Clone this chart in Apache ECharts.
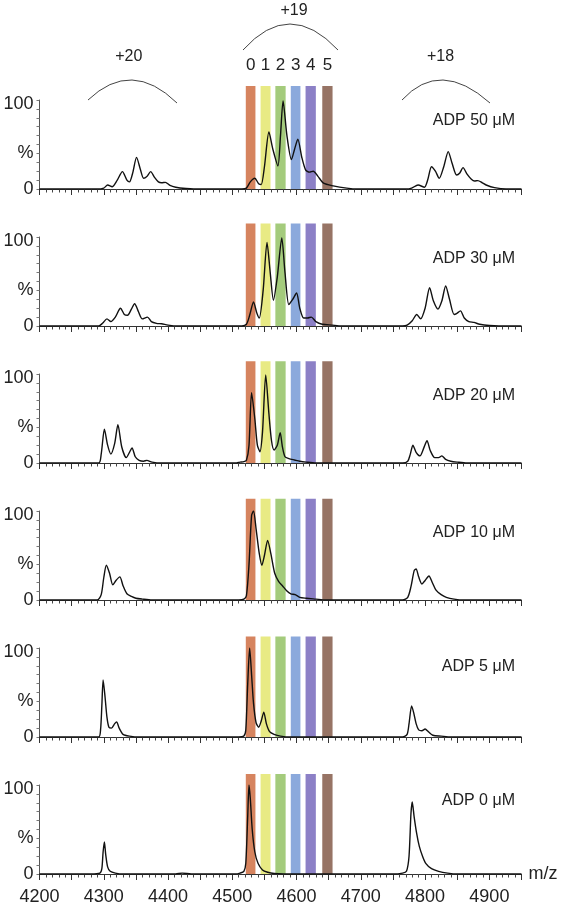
<!DOCTYPE html>
<html><head><meta charset="utf-8">
<script src="https://cdn.jsdelivr.net/npm/echarts@6/dist/echarts.min.js"></script>
<style>html,body{margin:0;padding:0;background:#fff}#c{width:562px;height:907px}</style>
</head><body><div id="c"></div>
<script>
// ---------- data ----------
const panelNames = ['ADP 50 μM','ADP 30 μM','ADP 20 μM','ADP 10 μM','ADP 5 μM','ADP 0 μM'];

const spec50 = [[4200,0],[4290,0],[4300,1],[4306,4.5],[4313,2.5],[4321,10],[4329,19.5],[4336,10],[4340,8],[4345,18],[4351,35.5],[4357,22],[4362,12],[4367,14],[4373,19.5],[4379,13],[4385,8],[4390,7],[4396,7.5],[4403,4],[4412,2],[4428,0.5],[4440,0],
 [4515,0],[4522,1],[4528,8],[4535,12],[4541,6],[4545,5],[4550,25],[4557,64],[4563,45],[4571,26],[4575,60],[4579,99],[4585,60],[4592,33],[4597,45],[4602,56],[4608,36],[4614,21.5],[4620,19],[4626,20],[4633,14.5],[4642,6.5],[4657,3.5],[4678,1],[4695,0],
 [4770,0],[4779,1],[4789,4.5],[4799,2],[4804,10],[4810,25],[4816,20],[4822,12],[4829,25],[4836,42],[4842,29],[4849,15.7],[4854,18],[4859,24],[4865,17],[4872,11],[4877,9],[4882,9.4],[4889,7],[4895,4.5],[4908,1.5],[4926,0],[4950,0]];

const spec30 = [[4200,0],[4292,0],[4298,3],[4305,8],[4311,5],[4318,10],[4326,20],[4332,13],[4337,12],[4343,19],[4348,25],[4354,16],[4360,8],[4368,10],[4374,5],[4382,3],[4390,2.5],[4400,1],[4415,0],
 [4515,0],[4522,2],[4527,12],[4533,27],[4538,15],[4542,9],[4548,40],[4554,94],[4559,60],[4564,29],[4570,55],[4577,99],[4582,60],[4588,24],[4594,30],[4600,37],[4605,20],[4611,9],[4617,9],[4623,10],[4630,5],[4640,2],[4655,1],[4670,0],
 [4765,0],[4772,1],[4780,6],[4787,13],[4793,8],[4800,20],[4807,43],[4813,28],[4820,19],[4826,28],[4832,45],[4838,30],[4845,13],[4849,14],[4855,17],[4861,9],[4868,5],[4876,4],[4885,2],[4900,0.5],[4915,0],[4950,0]];

const spec20 = [[4200,0],[4292,0],[4296,10],[4301,38],[4306,20],[4311,10],[4317,22],[4322,43],[4328,18],[4335,6],[4340,12],[4344,17],[4349,7],[4355,3],[4362,2],[4367,3],[4375,1],[4390,0],
 [4505,0],[4512,1],[4518,1.5],[4522,3],[4526,20],[4530,79],[4535,50],[4539,20],[4543,12.7],[4547,35],[4552,99],[4557,55],[4561,25],[4565,14.6],[4570,20],[4574.5,34],[4578,18],[4582,7],[4588,5],[4597,3.4],[4605,2],[4615,1],[4630,0],
 [4765,0],[4773,2],[4777,10],[4781,20],[4786,12],[4792,8],[4798,17],[4803,25],[4808,14],[4815,6],[4821,6],[4826,8],[4832,4],[4840,2],[4850,1],[4865,0],[4950,0]];

const spec10 = [[4200,0],[4290,0],[4296,6],[4300,25],[4304,39],[4309,30],[4314,17],[4319,22],[4325,26],[4330,16],[4336,7],[4343,4],[4350,2],[4360,1],[4375,0],
 [4510,0],[4518,1],[4522,5],[4526,40],[4530,95],[4533,100],[4537,80],[4542,52],[4546,39],[4550,50],[4555,67],[4560,52],[4566,30],[4572,21],[4578,16],[4585,10],[4591,7],[4598,6],[4605,3],[4615,2],[4630,1],[4645,0],
 [4765,0],[4773,3],[4778,15],[4783,33],[4786,35],[4790,26],[4795,18],[4800,22],[4806,27],[4811,20],[4817,11],[4825,6],[4833,3],[4845,1],[4860,0],[4950,0]];

const spec5 = [[4200,0],[4292,0],[4295,8],[4297,35],[4299,64],[4302,45],[4305,22],[4308,11],[4312,10],[4317,15],[4320,17],[4324,10],[4330,3],[4340,1],[4355,0],
 [4510,0],[4518,1],[4521,8],[4524,60],[4527,100],[4530,70],[4533,38],[4537,16],[4541,11],[4545,18],[4549,28],[4553,15],[4558,6],[4565,3],[4575,1],[4590,0],
 [4765,0],[4772,3],[4775,15],[4779,35],[4782,28],[4786,15],[4790,8],[4795,7],[4800,9],[4805,6],[4812,2],[4825,1],[4840,0],[4950,0]];

const spec0 = [[4200,0],[4280,0],[4294,1],[4297,6],[4299,25],[4301,36],[4303,22],[4306,8],[4310,3],[4318,1],[4330,0],
 [4412,0],[4422,1],[4436,0],
 [4505,0],[4512,1],[4518,3],[4521,12],[4524,65],[4526,100],[4528,85],[4531,50],[4535,25],[4540,12],[4547,4.5],[4555,2],[4565,0.5],[4580,0],
 [4750,0],[4765,1],[4771,3],[4775,20],[4778,68],[4780,81],[4783,64],[4787,45],[4791,31],[4796,20],[4801,12],[4810,6],[4821,3],[4835,1],[4850,0],[4950,0]];

const spectra = [spec50, spec30, spec20, spec10, spec5, spec0];

const bandRanges = [[4521,4536],[4544,4559.5],[4567,4583],[4591,4606],[4614,4630],[4640,4656]];
const bandLabels = ['0','1','2','3','4','5'];
const bandColors = ['#D6845F','#E8EA84','#A4CB7C','#8BA9DC','#8C80C6','#977465'];

const chargeLabels = ['+20','+19','+18'];
const chargeCenters = [4339, 4596, 4824]; // m/z of label centre

const xMin = 4200, xMax = 4950, xStep = 50;
const yMin = 0, yMax = 100, yStep = 10;

// ---------- layout ----------
const FONT = "'Liberation Sans', Arial, Helvetica, sans-serif";
const LEFT = 39.5, WIDTH = 482;
const BASE0 = 189, SPACING = 137, PANEL_H = 89;
const BAND_TOP0 = 86, BAND_SPACING = 137.6;
const nameOffsets = [21, 22, 22, 22, 19, 16];

const grids = [], xAxes = [], yAxes = [], series = [];
for (let k = 0; k < 6; k++) {
  const base = BASE0 + SPACING * k;
  grids.push({left: LEFT, width: WIDTH, top: base - PANEL_H, height: PANEL_H, outerBoundsMode: 'none', containLabel: false});
  xAxes.push({
    gridIndex: k, type: 'value', min: xMin, max: xMax, interval: xStep,
    axisLine: {show: true, lineStyle: {color: '#333', width: 1}},
    axisTick: {show: true, length: 6, lineStyle: {color: '#333', width: 1}},
    minorTick: {show: true, splitNumber: 5, length: 3.5, lineStyle: {color: '#444', width: 1}},
    splitLine: {show: false}, minorSplitLine: {show: false},
    axisLabel: {show: k === 5, fontSize: 18, fontFamily: FONT, color: '#222', margin: 14,
      formatter: v => (v % 100 === 0 && v < xMax) ? String(v) : ''},
    name: k === 5 ? 'm/z' : '', nameLocation: 'end', nameGap: 7,
    nameTextStyle: {fontSize: 18, fontFamily: FONT, color: '#222'},
    z: 2
  });
  yAxes.push({
    gridIndex: k, type: 'value', min: yMin, max: yMax, interval: yStep,
    axisLine: {show: true, lineStyle: {color: '#555', width: 1}},
    axisTick: {show: true, length: 3, lineStyle: {color: '#777', width: 1}},
    splitLine: {show: false},
    axisLabel: {show: true, fontSize: 18, fontFamily: FONT, color: '#222', margin: 6,
      showMinLabel: true, showMaxLabel: true,
      formatter: v => v === 0 ? '0' : v === 100 ? '{t|100}' : v === 40 ? '%' : '',
      rich: {t: {fontSize: 18, fontFamily: FONT, color: '#222', padding: [9, 0, 0, 0]}}},
    z: 2
  });
  series.push({
    type: 'line', xAxisIndex: k, yAxisIndex: k, data: spectra[k],
    showSymbol: false, symbol: 'none', smooth: 0.25,
    lineStyle: {color: '#111', width: 1.4}, z: 5, silent: true, animation: false
  });
}
// band grids
for (let k = 0; k < 6; k++) {
  const base = BASE0 + SPACING * k;
  const top = BAND_TOP0 + BAND_SPACING * k;
  grids.push({left: LEFT, width: WIDTH, top: top, height: base - top, outerBoundsMode: 'none', containLabel: false});
  xAxes.push({gridIndex: 6 + k, type: 'value', min: xMin, max: xMax, show: false});
  yAxes.push({gridIndex: 6 + k, type: 'value', min: 0, max: 1, show: false});
  series.push({
    type: 'line', xAxisIndex: 6 + k, yAxisIndex: 6 + k, data: [[xMin, 0]],
    symbol: 'none', lineStyle: {opacity: 0}, silent: true, animation: false, z: 1,
    markArea: {
      silent: true, animation: false,
      label: {show: k === 0, position: 'top', distance: 12, fontSize: 17, fontFamily: FONT, color: '#222', formatter: '{b}'},
      data: bandRanges.map((r, i) => [
        {name: bandLabels[i], xAxis: r[0], itemStyle: {color: bandColors[i], opacity: 1}},
        {xAxis: r[1]}
      ])
    }
  });
}

const chart = echarts.init(document.getElementById('c'), null, {renderer: 'canvas'});
chart.setOption({
  animation: false, backgroundColor: '#fff',
  grid: grids, xAxis: xAxes, yAxis: yAxes, series: series
});

// annotations
const px = v => chart.convertToPixel({xAxisIndex: 0}, v);
const graphics = [];
const arcs = [
  {x1: 88, y1: 100, x2: 177, y2: 103, cpx1: 131.5, cpy1: 58.5},
  {x1: 243, y1: 50, x2: 338, y2: 50, cpx1: 289.5, cpy1: -2},
  {x1: 402, y1: 100, x2: 490, y2: 103, cpx1: 440, cpy1: 58.5}
];
const chargeY = [57, 11, 57];
arcs.forEach((a, i) => {
  graphics.push({type: 'bezierCurve', shape: a, style: {stroke: '#444', lineWidth: 1, fill: null}, silent: true});
  graphics.push({type: 'text', x: px(chargeCenters[i]), y: chargeY[i],
    style: {text: chargeLabels[i], fontSize: 16, fontFamily: FONT, fill: '#222', align: 'center', verticalAlign: 'middle'}});
});
for (let k = 0; k < 6; k++) {
  const top = BASE0 + SPACING * k - PANEL_H;
  graphics.push({type: 'text', x: 515, y: top + nameOffsets[k],
    style: {text: panelNames[k], fontSize: 16, fontFamily: FONT, fill: '#222', align: 'right', verticalAlign: 'middle'}});
}
chart.setOption({graphic: graphics});
</script></body></html>
